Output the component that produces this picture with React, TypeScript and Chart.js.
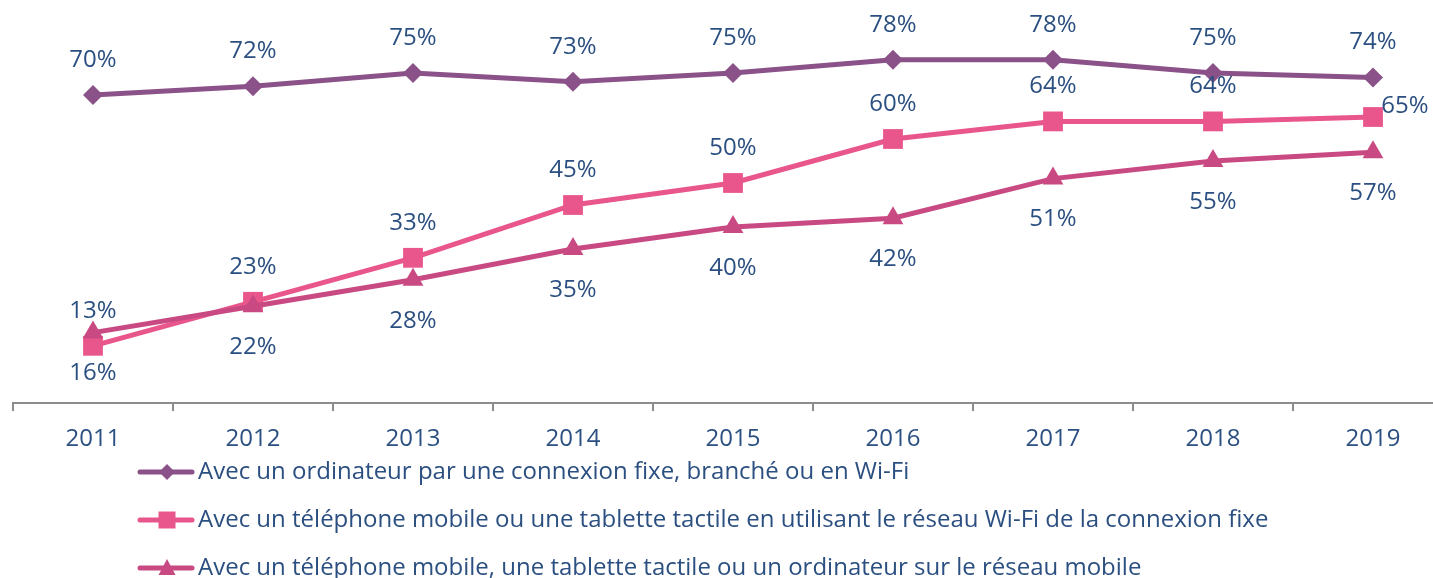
import React, { useEffect, useRef } from 'react';
import { Chart, registerables } from 'chart.js';

Chart.register(...registerables);

const years = ['2011', '2012', '2013', '2014', '2015', '2016', '2017', '2018', '2019'];
const ordinateurFixe = [70, 72, 75, 73, 75, 78, 78, 75, 74];
const mobileWifiFixe = [13, 23, 33, 45, 50, 60, 64, 64, 65];
const reseauMobile = [16, 22, 28, 35, 40, 42, 51, 55, 57];
const seriesNames = [
  'Avec un ordinateur par une connexion fixe, branché ou en Wi-Fi',
  'Avec un téléphone mobile ou une tablette tactile en utilisant le réseau Wi-Fi de la connexion fixe',
  'Avec un téléphone mobile, une tablette tactile ou un ordinateur sur le réseau mobile',
];

const TEXT = '#2B4F80';
const FONT = '"Open Sans", "Noto Sans", sans-serif';
const PURPLE = '#8B5289';
const PINK = '#E9568B';
const MAGENTA = '#C94A83';

const labelPlugin = {
  id: 'valueLabels',
  afterDatasetsDraw(chart: any) {
    const ctx = chart.ctx;
    ctx.save();
    ctx.font = `24px ${FONT}`;
    ctx.fillStyle = TEXT;
    ctx.textAlign = 'center';
    ctx.textBaseline = 'middle';
    chart.data.datasets.forEach((ds: any, i: number) => {
      const meta = chart.getDatasetMeta(i);
      const last = ds.data.length - 1;
      meta.data.forEach((pt: any, j: number) => {
        let x = pt.x;
        let y = pt.y;
        if (ds.lastLabelRight && j === last) {
          x += 32;
          y -= 11;
        } else if (ds.labelSide === 'above') {
          y -= 35;
        } else {
          y += 41;
        }
        ctx.fillText(ds.data[j] + '%', x, y);
      });
    });
    ctx.restore();
  },
};

function drawMarker(ctx: CanvasRenderingContext2D, style: string, x: number, y: number, color: string) {
  ctx.fillStyle = color;
  ctx.beginPath();
  if (style === 'rectRot') {
    ctx.moveTo(x, y - 8);
    ctx.lineTo(x + 8, y);
    ctx.lineTo(x, y + 8);
    ctx.lineTo(x - 8, y);
  } else if (style === 'rect') {
    ctx.rect(x - 8.5, y - 8.5, 17, 17);
  } else {
    ctx.moveTo(x, y - 9);
    ctx.lineTo(x + 8.5, y + 7);
    ctx.lineTo(x - 8.5, y + 7);
  }
  ctx.closePath();
  ctx.fill();
}

const legendPlugin = {
  id: 'customLegend',
  afterDraw(chart: any) {
    const ctx = chart.ctx;
    ctx.save();
    const rows = [472, 520, 568];
    chart.data.datasets.forEach((ds: any, i: number) => {
      const y = rows[i];
      ctx.strokeStyle = ds.borderColor;
      ctx.lineWidth = 5;
      ctx.lineCap = 'round';
      ctx.beginPath();
      ctx.moveTo(140, y);
      ctx.lineTo(192, y);
      ctx.stroke();
      drawMarker(ctx, ds.pointStyle, 167, y, ds.borderColor);
      ctx.font = `24px ${FONT}`;
      ctx.fillStyle = TEXT;
      ctx.textAlign = 'left';
      ctx.textBaseline = 'middle';
      ctx.fillText(seriesNames[i], 198, y);
    });
    ctx.restore();
  },
};

export default function App() {
  const ref = useRef<HTMLCanvasElement>(null);
  useEffect(() => {
    if (!ref.current) return;
    const chart = new Chart(ref.current, {
      type: 'line',
      data: {
        labels: years,
        datasets: [
          {
            label: seriesNames[0],
            data: ordinateurFixe,
            borderColor: PURPLE,
            backgroundColor: PURPLE,
            pointStyle: 'rectRot',
            pointRadius: 10,
            labelSide: 'above',
            order: 2,
          } as any,
          {
            label: seriesNames[1],
            data: mobileWifiFixe,
            borderColor: PINK,
            backgroundColor: PINK,
            pointStyle: 'rect',
            pointRadius: 14,
            labelSide: 'above',
            lastLabelRight: true,
            order: 1,
          } as any,
          {
            label: seriesNames[2],
            data: reseauMobile,
            borderColor: MAGENTA,
            backgroundColor: MAGENTA,
            pointStyle: 'triangle',
            pointRadius: 12,
            labelSide: 'below',
            order: 0,
          } as any,
        ],
      },
      options: {
        animation: false,
        responsive: false,
        devicePixelRatio: 1,
        layout: { autoPadding: false, padding: { top: 7, left: 13, right: 17, bottom: 0 } },
        elements: {
          line: { borderWidth: 5, tension: 0 },
          point: { borderWidth: 0, hoverRadius: 10 },
        },
        scales: {
          x: {
            type: 'category',
            offset: true,
            grid: {
              display: true,
              drawOnChartArea: false,
              drawTicks: true,
              tickLength: 8,
              color: '#8C8C8C',
              lineWidth: 2,
              offset: true,
            },
            border: { display: true, color: '#8C8C8C', width: 2 },
            ticks: {
              color: TEXT,
              font: { family: FONT, size: 24 },
              padding: 14,
              maxRotation: 0,
              autoSkip: false,
            },
            afterFit: (scale: any) => {
              scale.height = 175;
            },
          },
          y: { display: false, min: 0, max: 90 },
        },
        plugins: {
          legend: { display: false },
          tooltip: { enabled: false },
        },
      },
      plugins: [labelPlugin, legendPlugin],
    });
    return () => chart.destroy();
  }, []);
  return (
    <div style={{ position: 'absolute', left: 0, top: 0, width: 1433, height: 578, overflow: 'hidden', background: '#fff' }}>
      <canvas ref={ref} width={1470} height={578} style={{ display: 'block' }} />
    </div>
  );
}
